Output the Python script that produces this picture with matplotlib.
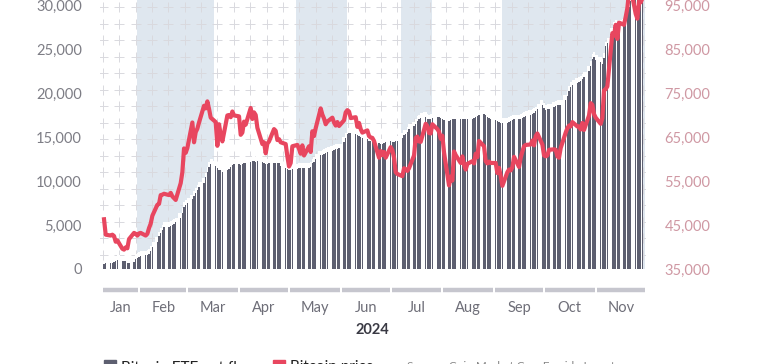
import numpy as np
import pandas as pd
import matplotlib
matplotlib.use('Agg')
import matplotlib.pyplot as plt
import matplotlib.dates as mdates
import matplotlib.transforms as mtransforms
from matplotlib.patches import Rectangle

plt.rcParams['font.family'] = ['Lato', 'DejaVu Sans']

# cumulative spot bitcoin ETF net flows ($m), one value per business day
flows_jan = [570, 650, 700, 720, 800, 950, 1000, 950, 900, 880, 700, 650, 800, 1150, 1300]
flows_feb = [1400, 1500, 1550, 1600, 1700, 2100, 2500, 3100, 3700, 4100, 4400, 4800, 4800, 4850,
             5000, 5100, 5300, 5800, 6400, 7100, 7300]
flows_mar = [7500, 7900, 8300, 8600, 9000, 9300, 9800, 10400, 11000, 11600, 11900, 11700, 11500,
             11300, 11200, 11000, 11300, 11400, 11600, 11800, 11900]
flows_apr = [11900, 11800, 11900, 12000, 12100, 12200, 12300, 12300, 12200, 12300, 12200, 12000,
             11900, 11900, 12000, 12100, 12100, 12100, 12000, 11700, 11500, 11400]
flows_may = [11200, 11300, 11400, 11400, 11500, 11500, 11500, 11500, 11500, 11600, 12000, 12200,
             12500, 12900, 13000, 13100, 13200, 13300, 13400, 13500, 13600, 13600, 13700]
flows_jun = [14400, 14900, 15300, 15500, 15500, 15300, 15200, 15100, 15000, 14900, 14800, 14600,
             14500, 14400, 14400, 14300, 14200, 14200, 14300, 14400]
flows_jul = [14500, 14400, 14400, 14500, 14600, 14900, 15200, 15300, 15600, 15900, 16200, 16500,
             16800, 17000, 17200, 17300, 17100, 17000, 17100, 17200, 17300, 17300, 17200]
flows_aug = [17100, 16900, 16800, 16900, 17000, 17000, 17000, 17000, 17100, 17100, 17100, 17100,
             17100, 17200, 17300, 17400, 17500, 17600, 17500, 17300, 17200, 17100]
flows_sep = [16900, 16800, 16700, 16600, 16600, 16600, 16700, 16800, 16900, 17000, 17000, 17100,
             17200, 17300, 17400, 17500, 17600, 17700, 17900, 18200, 18600]
flows_oct = [18300, 18100, 18200, 18200, 18400, 18500, 18600, 18600, 18600, 19200, 19700, 20200,
             20700, 20900, 21100, 21300, 21400, 21600, 21800, 22500, 23100, 23900, 24100]
flows_nov = [23800, 23500, 23300, 24000, 25300, 25700, 26800, 27500, 27800, 27500, 27800, 27900,
             28100, 28900, 29800, 30500, 31000, 31300, 31100, 31600, 32000]

# bitcoin price ($), same business days
price_jan = [46300, 42800, 42600, 42800, 42500, 41200, 41500, 39600, 39400, 39900, 39700, 41800,
             43200, 43000, 42600]
price_feb = [43100, 43200, 42600, 43000, 44300, 45300, 47100, 49600, 49800, 51800, 51900, 52100,
             51800, 52300, 51500, 51100, 50700, 54500, 57000, 62400, 61400]
price_mar = [62500, 68300, 63800, 66100, 66900, 68300, 72100, 71500, 73100, 71400, 69400, 68400,
             63000, 67900, 65500, 64000, 69900, 70000, 69500, 70800, 69900]
price_apr = [69700, 65500, 66000, 68500, 67800, 71600, 69100, 70600, 70000, 67100, 63400, 63800,
             61300, 63500, 64000, 66800, 66400, 64300, 64500, 63800, 63400, 60600]
price_may = [58300, 59100, 62900, 63200, 62300, 61200, 63100, 60800, 62900, 61600, 66300, 65200,
             67000, 71500, 70100, 69200, 67900, 68500, 69400, 68300, 67600, 68400, 67500]
price_jun = [68800, 70600, 71100, 70800, 69300, 69500, 67300, 68200, 66800, 66000, 66500, 65200,
             64900, 64800, 64100, 60300, 61800, 60900, 61600, 60300]
price_jul = [62700, 62000, 60300, 57000, 56600, 56100, 57900, 57700, 57300, 57900, 60800, 64800,
             65100, 64000, 63900, 68000, 67500, 65900, 65800, 67900, 66800, 66200, 64600]
price_aug = [65300, 61500, 54000, 56000, 55100, 61700, 60900, 59100, 60600, 58700, 57600, 58900,
             59500, 59000, 61200, 60400, 64100, 62900, 59500, 59000, 59400, 59100]
price_sep = [59100, 56800, 58000, 56100, 53900, 57000, 57600, 57400, 58100, 60500, 58200, 60300,
             61700, 62900, 63200, 63300, 64200, 63100, 65200, 65800, 63300]
price_oct = [60800, 60600, 60800, 62100, 62200, 62100, 60600, 60300, 62500, 66000, 67000, 67600,
             67400, 68400, 67400, 67400, 66700, 68200, 66600, 69900, 72700, 72300, 70200]
price_nov = [69400, 68000, 69300, 75600, 75900, 76500, 88600, 88000, 90500, 87300, 91000, 90500,
             92300, 94300, 98000, 98900, 93000, 91900, 95900, 95600, 96500]

band_start = ['2024-01-31', '2024-05-05', '2024-07-07', '2024-09-06']
band_end = ['2024-03-17', '2024-06-05', '2024-07-26', '2024-12-01']

month_labels = ['Jan', 'Feb', 'Mar', 'Apr', 'May', 'Jun', 'Jul', 'Aug', 'Sep', 'Oct', 'Nov']
left_ticks = [0, 5000, 10000, 15000, 20000, 25000, 30000]
right_ticks = [35000, 45000, 55000, 65000, 75000, 85000, 95000]

flows = np.array(flows_jan + flows_feb + flows_mar + flows_apr + flows_may + flows_jun +
                 flows_jul + flows_aug + flows_sep + flows_oct + flows_nov)
price = np.array(price_jan + price_feb + price_mar + price_apr + price_may + price_jun +
                 price_jul + price_aug + price_sep + price_oct + price_nov)
days = pd.bdate_range('2024-01-11', '2024-11-29')

BAR = '#5d5f70'
RED = '#e8465f'
BAND = '#dfe7ef'

fig = plt.figure(figsize=(7.64, 3.64), dpi=100)
ax = fig.add_axes([100 / 764, 95 / 364, 545 / 764, 269 / 364])
ax2 = ax.twinx()

x = mdates.date2num(days)
ax.set_xlim(mdates.date2num(pd.Timestamp('2024-01-08 14:00')),
            mdates.date2num(pd.Timestamp('2024-11-30 14:00')))
ax.set_ylim(0, 30570)
ax2.set_ylim(35000, 96140)

# shaded periods
for s, e in zip(band_start, band_end):
    ax.axvspan(mdates.date2num(pd.Timestamp(s)), mdates.date2num(pd.Timestamp(e)),
               color=BAND, lw=0, zorder=0)

# plus-sign grid
gx = np.arange(3, 546, 16.35) / 545
gy = (269 - np.arange(7, 262, 16.5)) / 269
GX, GY = np.meshgrid(gx, gy)
ax.scatter(GX.ravel(), GY.ravel(), marker='+', s=42, lw=0.7, color='#d9d9de',
           transform=ax.transAxes, zorder=1)

# white halo around bars
ax.fill_between(x, 0, flows + 550, step='mid', color='white', lw=0, zorder=2)
ax.bar(x, flows, width=0.8, color=BAR, lw=0, zorder=3)

ax2.plot(x, price, color=RED, lw=3.0, solid_joinstyle='round', zorder=4)
ax.set_zorder(1)
ax2.set_zorder(2)
ax.patch.set_visible(False)
ax2.patch.set_visible(False)

for a in (ax, ax2):
    for sp in a.spines.values():
        sp.set_visible(False)
    a.tick_params(length=0)
ax.set_xticks([])
ax.set_yticks(left_ticks)
ax.set_yticklabels([f'{v:,}' for v in left_ticks], color='#7d7d85', fontsize=10.5)
ax.tick_params(axis='y', pad=13)
ax2.set_yticks(right_ticks)
ax2.set_yticklabels([f'{v:,}' for v in right_ticks], color='#cf98a3', fontsize=10.5)
ax2.tick_params(axis='y', pad=14)

# month strip under the plot
trans = mtransforms.blended_transform_factory(ax.transData, ax.transAxes)
starts = [pd.Timestamp('2024-01-11') - pd.Timedelta(hours=12)] + \
         [pd.Timestamp(f'2024-{m:02d}-01') for m in range(2, 12)]
ends = [pd.Timestamp(f'2024-{m:02d}-01') for m in range(2, 13)]
for i, lab in enumerate(month_labels):
    s = mdates.date2num(starts[i]) + (0.6 if i else 0)
    e = mdates.date2num(ends[i]) - 0.6
    ax.plot([s, e], [-21 / 269, -21 / 269], color='#c6c6ce', lw=3.2, solid_capstyle='butt',
            transform=trans, clip_on=False)
    ax.text((s + e) / 2, -39 / 269, lab, transform=trans, ha='center', va='center',
            fontsize=10.5, color='#6e6e78')
ax.text(0.5, -61 / 269, '2024', transform=ax.transAxes, ha='center', va='center',
        fontsize=10.5, fontweight='bold', color='#3a3a44')

# legend, mostly cut off at the bottom edge as in the source image
fig.patches.append(Rectangle((104 / 764, -8 / 364), 12 / 764, 12 / 364, color=BAR,
                             transform=fig.transFigure))
fig.text(121 / 764, 3.5 / 364, 'Bitcoin ETF net flows', va='top', fontsize=11, color='#222222')
fig.patches.append(Rectangle((273 / 764, -8 / 364), 12 / 764, 12 / 364, color=RED,
                             transform=fig.transFigure))
fig.text(290 / 764, 3.5 / 364, 'Bitcoin price', va='top', fontsize=11, color='#222222')
fig.text(407 / 764, 3 / 364, 'Source: Coin Market Cap, Farside Investors', va='top',
         fontsize=8.5, color='#888888')

fig.savefig('out.png', dpi=100)
